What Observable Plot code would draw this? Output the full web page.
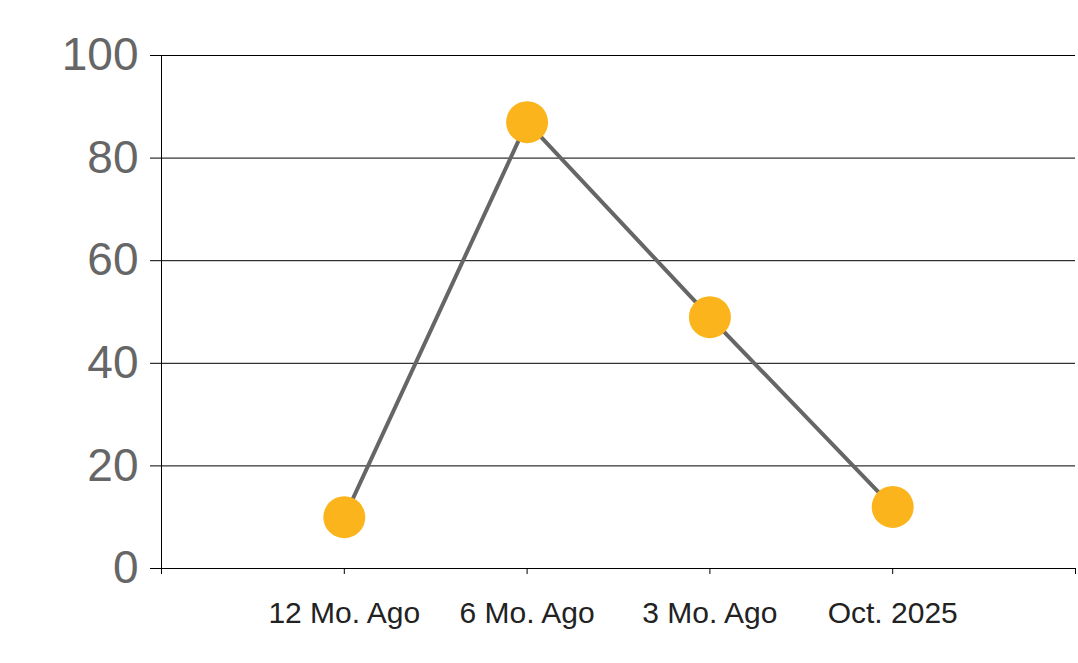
<!DOCTYPE html>
<html>
<head>
<meta charset="utf-8">
<script src="https://cdn.jsdelivr.net/npm/d3@7"></script>
<script src="https://cdn.jsdelivr.net/npm/@observablehq/plot@0.6"></script>
<style>
  html, body { margin: 0; padding: 0; background: #fff; }
  #chart { width: 1078px; height: 663px; }
</style>
</head>
<body>
<div id="chart"></div>
<script>
const categories = ["12 Mo. Ago", "6 Mo. Ago", "3 Mo. Ago", "Oct. 2025"];
const values = [10, 87, 49, 12];
const yTicks = [0, 20, 40, 60, 80, 100];

const data = categories.map((c, i) => ({cat: c, pos: i + 1, value: values[i]}));
const xTicks = d3.range(0, categories.length + 2);

const chart = Plot.plot({
  width: 1078,
  height: 663,
  marginLeft: 161,
  marginRight: 3,
  marginTop: 55,
  marginBottom: 95,
  style: {fontFamily: "'Liberation Sans', Arial, sans-serif", background: "#fff"},
  x: {type: "linear", domain: [0, categories.length + 1]},
  y: {domain: [0, 100]},
  marks: [
    Plot.gridY(yTicks, {stroke: "#000", strokeOpacity: 1, strokeWidth: 1}),
    Plot.axisY(yTicks, {tickSize: 11, tickPadding: 12, fontSize: 46, fill: "#666", stroke: "#000", label: null}),
    Plot.axisX(xTicks, {tickSize: 6, tickPadding: 27, fontSize: 30, fill: "#222", stroke: "#000", label: null,
      tickFormat: i => categories[i - 1] ?? ""}),
    Plot.ruleY([0], {stroke: "#000", strokeWidth: 1}),
    Plot.ruleX([0], {y1: 0, y2: 100, stroke: "#000", strokeWidth: 1}),
    Plot.line(data, {x: "pos", y: "value", stroke: "#666", strokeWidth: 4}),
    Plot.dot(data, {x: "pos", y: "value", r: 21, fill: "#FBB41B", stroke: "none"})
  ]
});
document.getElementById("chart").append(chart);
</script>
</body>
</html>
